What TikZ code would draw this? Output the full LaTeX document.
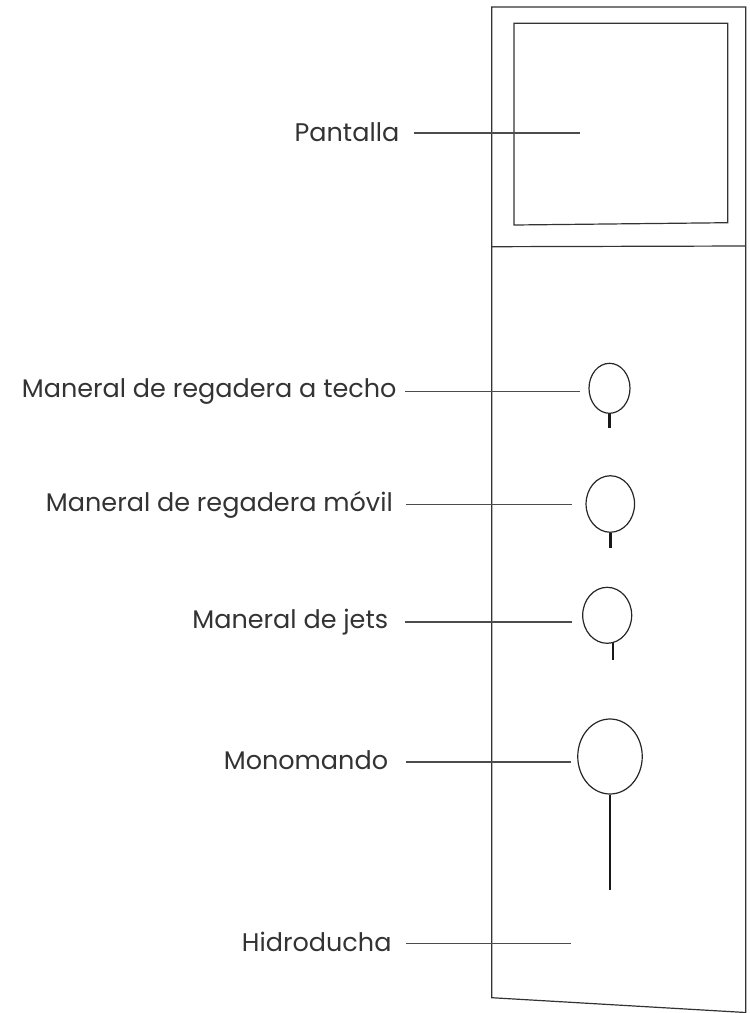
\documentclass[tikz,border=0pt]{standalone}
\usepackage{fontspec}
\setmainfont{Poppins}
\usetikzlibrary{shapes.geometric}
\tikzset{
  panel/.style={
      draw=black!80, line width=1.2pt,
  },
  knob/.style={
      ellipse, draw=black!85, line width=1.2pt, inner sep=0pt,
  },
  stick/.style={
    draw=black!90, line width=2.4pt,
  },
  leader/.style={
    draw=black!70, line width=1.1pt,
  },
  tag/.style={
    anchor=base east, inner xsep=#1, inner ysep=0pt, text=black!80,
  },
  tag/.default=8pt
}

\begin{document}
\begin{tikzpicture}[x=1pt,y=-1pt,font=\fontsize{25.5}{30}\selectfont]
\useasboundingbox (0,0) rectangle (750,1013);
% housing
\draw[panel] (745.7,1013) -- (745.7,7) -- (491.7,7) -- (491.7,997.7) -- (745.7,1012.5);
\draw[panel] (491.7,246.7) -- (745.7,246);
\draw[panel] (514,23.3) -- (727.7,23.3) -- (727.7,222.7) -- (514,225) -- cycle;

% knobs
\node[knob, minimum width=41pt, minimum height=50pt] (techo) at (609.5,388.3) {};
\node[knob, minimum width=48.5pt, minimum height=56.5pt] (movil) at (610.3,504) {};
\node[knob, minimum width=49pt, minimum height=56pt] (jets) at (607.2,615.3) {};
\node[knob, minimum width=64.5pt, minimum height=75pt] (mono) at (610,756.5) {};
\draw[stick] (techo.south) -- ++(0,14);
\draw[stick] (movil.south) -- ++(0,15);
\draw[stick] (jets.-78) -- ++(0,17);
\draw[stick] (mono.south) -- ++(0,95);

% leader ends
\coordinate (pantalla-end) at (580,133);
\coordinate (techo-end) at (580,391.7);
\coordinate (movil-end) at (571.7,504.3);
\coordinate (jets-end) at (571.7,622);
\coordinate (mono-end) at (571,762);
\coordinate (hidro-end) at (571,943.5);

% labels
\node[tag=14.5pt] (pantalla-lbl) at (414,141) {Pantalla};
\node[tag=8.3pt] (techo-lbl) at (405,397) {Maneral de regadera a techo};
\node[tag=13pt] (movil-lbl) at (406,511) {Maneral de regadera móvil};
\node[tag=16.7pt] (jets-lbl) at (405,628.5) {Maneral de jets};
\node[tag=17.7pt] (mono-lbl) at (406,769) {Monomando};
\node[tag=14.3pt] (hidro-lbl) at (406,951) {Hidroducha};

\draw[leader] (pantalla-lbl.east |- pantalla-end) -- (pantalla-end);
\draw[leader] (techo-lbl.east |- techo-end) -- (techo-end);
\draw[leader] (movil-lbl.east |- movil-end) -- (movil-end);
\draw[leader] (jets-lbl.east |- jets-end) -- (jets-end);
\draw[leader] (mono-lbl.east |- mono-end) -- (mono-end);
\draw[leader] (hidro-lbl.east |- hidro-end) -- (hidro-end);
\end{tikzpicture}
\end{document}
